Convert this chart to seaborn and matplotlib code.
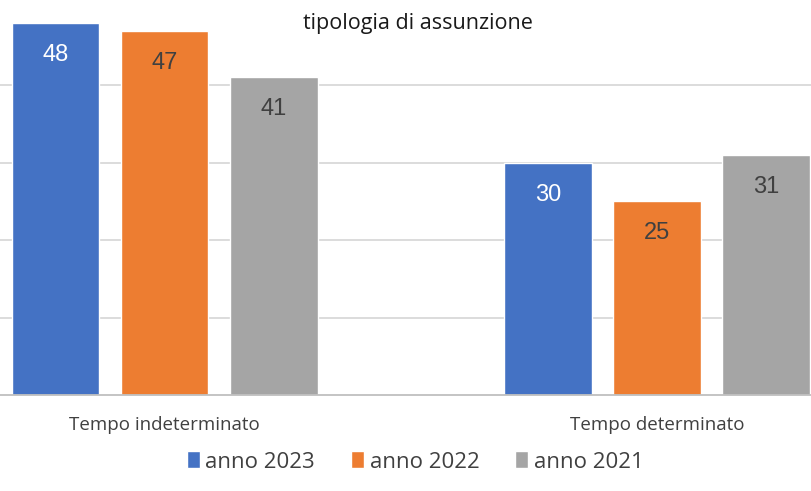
import pandas as pd
import seaborn as sns
import matplotlib.pyplot as plt

categorie = ['Tempo indeterminato', 'Tempo determinato']
anni = ['anno 2023', 'anno 2022', 'anno 2021']
valori_2023 = [48, 30]
valori_2022 = [47, 25]
valori_2021 = [41, 31]
colori = ['#4472C4', '#ED7D31', '#A5A5A5']
colori_etichette = ['white', '#404040', '#404040']

df = pd.DataFrame({
    'categoria': categorie * 3,
    'anno': [a for a in anni for _ in categorie],
    'valore': valori_2023 + valori_2022 + valori_2021,
})

sns.set_style('white')
plt.rcParams['font.family'] = ['Open Sans', 'DejaVu Sans']

fig = plt.figure(figsize=(8.11, 4.91), dpi=100)
ax = fig.add_axes([0, 96 / 491, 1, 395 / 491])

sns.barplot(data=df, x='categoria', y='valore', hue='anno', hue_order=anni,
            palette=colori, width=0.665, gap=0.2, saturation=1, ax=ax, legend=True)

ax.set_xlim(-0.335, 1.313)
ax.set_ylim(0, 51)
ax.set_yticks([10, 20, 30, 40])
ax.yaxis.grid(True, color='#d9d9d9', linewidth=1.3)
ax.set_axisbelow(True)
ax.tick_params(axis='y', length=0, labelleft=False)
ax.tick_params(axis='x', length=0, pad=15, labelsize=13.5, labelcolor='#404040')
for s in ['top', 'left', 'right']:
    ax.spines[s].set_visible(False)
ax.spines['bottom'].set_color('#bfbfbf')
ax.spines['bottom'].set_linewidth(1.3)
ax.set_xlabel('')
ax.set_ylabel('')

# etichette dentro le barre
for cont, col in zip(ax.containers, colori_etichette):
    for bar in cont:
        h = bar.get_height()
        ax.annotate(f'{h:.0f}', (bar.get_x() + bar.get_width() / 2, h),
                    xytext=(0, -23), textcoords='offset points',
                    ha='center', va='center', color=col, fontsize=17,
                    family=['Liberation Sans', 'DejaVu Sans'])

leg = ax.legend(loc='center', bbox_to_anchor=(415 / 811, 29 / 491),
                bbox_transform=fig.transFigure, ncol=3, frameon=False,
                fontsize=16, handlelength=0.6, handleheight=0.8,
                handletextpad=0.25, columnspacing=1.6)
for t in leg.get_texts():
    t.set_color('#404040')

fig.text(418 / 811, 1 - 24 / 491, 'tipologia di assunzione', ha='center', va='center',
         fontsize=15.5, color='#1a1a1a')

plt.savefig('out.png', dpi=100)
